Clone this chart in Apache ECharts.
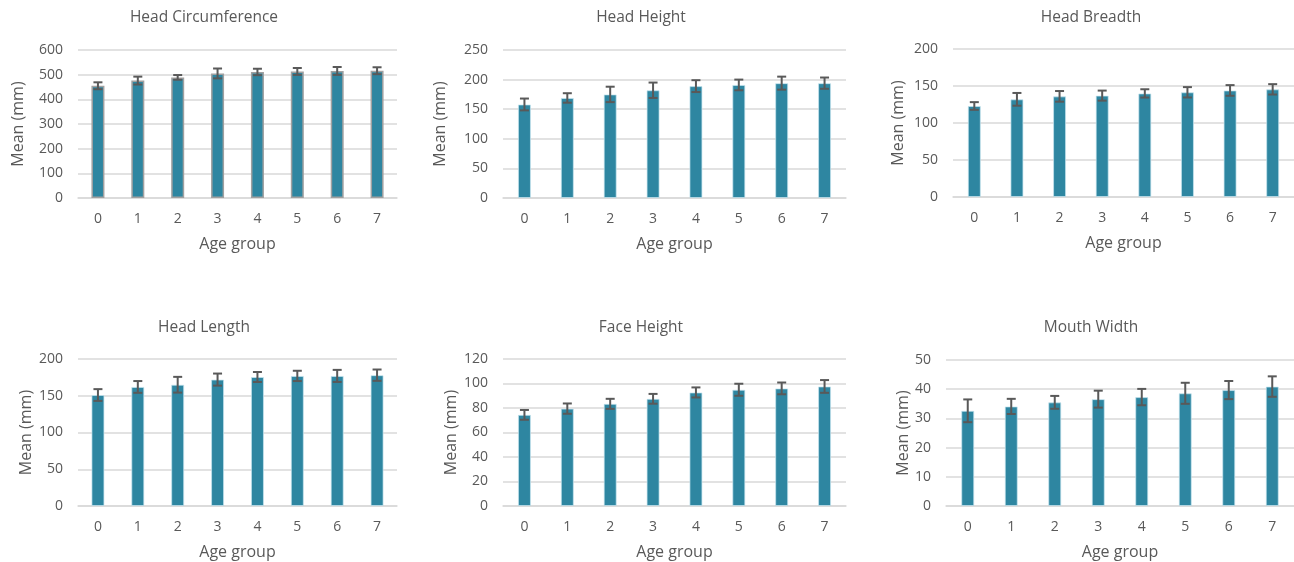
<!DOCTYPE html>
<html>
<head>
<meta charset="utf-8">
<script src="https://cdn.jsdelivr.net/npm/echarts@6/dist/echarts.min.js"></script>
<style>
  html, body { margin: 0; padding: 0; background: #ffffff; }
  #chart { width: 1294px; height: 562px; }
</style>
</head>
<body>
<div id="chart"></div>
<script>
// ---- Data ----
const categories = ['0', '1', '2', '3', '4', '5', '6', '7'];

const titles = ['Head Circumference', 'Head Height', 'Head Breadth', 'Head Length', 'Face Height', 'Mouth Width'];

const headCircumferenceMean = [455, 476, 489, 505, 511, 513, 515, 516];
const headCircumferenceErr  = [14, 16, 9.5, 20, 13, 14, 16, 14];

const headHeightMean = [158, 169, 175, 182, 189, 191, 194, 194];
const headHeightErr  = [10, 8, 13, 13, 10, 9, 11, 9.5];

const headBreadthMean = [123, 132, 136, 137, 140, 141.5, 144, 145.5];
const headBreadthErr  = [5.2, 8.6, 7.2, 6.8, 5.6, 7, 7.2, 7];

const headLengthMean = [151, 162, 165, 172, 175.5, 177, 177, 178];
const headLengthErr  = [8, 8, 10.7, 8.2, 6.8, 7, 8.2, 7.7];

const faceHeightMean = [74.4, 79.5, 83.4, 87.5, 92.7, 94.9, 96, 97.6];
const faceHeightErr  = [4, 4.2, 4.1, 4, 4.1, 4.9, 4.8, 5.2];

const mouthWidthMean = [32.6, 34.1, 35.5, 36.6, 37.3, 38.6, 39.7, 40.9];
const mouthWidthErr  = [3.9, 2.6, 2.2, 2.9, 2.8, 3.6, 3.1, 3.5];

const yMax      = [600, 250, 200, 200, 120, 50];
const yInterval = [100, 50, 50, 50, 20, 10];

const means = [headCircumferenceMean, headHeightMean, headBreadthMean, headLengthMean, faceHeightMean, mouthWidthMean];
const errs  = [headCircumferenceErr, headHeightErr, headBreadthErr, headLengthErr, faceHeightErr, mouthWidthErr];

// ---- Layout (pixels) ----
const grids = [
  { left: 78,  top: 50,  width: 319, height: 148 },
  { left: 503, top: 50,  width: 343, height: 148 },
  { left: 953, top: 49,  width: 341, height: 148 },
  { left: 78,  top: 359, width: 319, height: 147 },
  { left: 503, top: 359, width: 343, height: 147 },
  { left: 946, top: 360, width: 348, height: 146 }
];
const yNameGap = [52, 55, 47, 44, 44, 35];
const titlePos = [[204, 18], [641, 18], [1091, 18], [204, 328], [641, 328], [1091, 328]];

const FONT = '"Open Sans", "Noto Sans", sans-serif';
const TXT = '#595959';
const BAR = '#2E86A1';

const option = {
  backgroundColor: '#ffffff',
  animation: false,
  textStyle: { fontFamily: FONT },
  grid: grids.map(g => Object.assign({ containLabel: false }, g)),
  graphic: titles.map((t, i) => ({
    type: 'text',
    x: titlePos[i][0],
    y: titlePos[i][1],
    style: {
      text: t,
      fill: TXT,
      font: '15.5px ' + FONT,
      textAlign: 'center',
      textVerticalAlign: 'middle'
    }
  })),
  xAxis: grids.map((g, i) => ({
    type: 'category',
    gridIndex: i,
    data: categories,
    name: 'Age group',
    nameLocation: 'middle',
    nameGap: 38,
    nameTextStyle: { color: TXT, fontSize: 16, fontFamily: FONT },
    axisLine: { show: true, lineStyle: { color: '#d9d9d9', width: 1.5 } },
    axisTick: { show: false },
    axisLabel: { color: TXT, fontSize: 14, margin: 14, fontFamily: FONT }
  })),
  yAxis: grids.map((g, i) => ({
    type: 'value',
    gridIndex: i,
    min: 0,
    max: yMax[i],
    interval: yInterval[i],
    name: 'Mean (mm)',
    nameLocation: 'middle',
    nameGap: yNameGap[i],
    nameTextStyle: { color: TXT, fontSize: 16, fontFamily: FONT },
    axisLine: { show: false },
    axisTick: { show: false },
    axisLabel: { color: TXT, fontSize: 14, margin: 15, fontFamily: FONT },
    splitLine: { show: true, lineStyle: { color: '#d9d9d9', width: 1.5 } }
  })),
  series: []
};

means.forEach((m, i) => {
  option.series.push({
    type: 'bar',
    xAxisIndex: i,
    yAxisIndex: i,
    data: m,
    barWidth: 13,
    itemStyle: {
      color: BAR,
      borderColor: i === 0 ? '#a0a0a0' : 'rgba(200,230,240,0.7)',
      borderWidth: i === 0 ? 1.5 : 1
    },
    z: 2
  });
  option.series.push({
    type: 'custom',
    xAxisIndex: i,
    yAxisIndex: i,
    data: m.map((v, k) => [k, v - errs[i][k], v + errs[i][k]]),
    encode: { x: 0, y: [1, 2] },
    renderItem: function (params, api) {
      const x = api.value(0);
      const lo = api.coord([x, api.value(1)]);
      const hi = api.coord([x, api.value(2)]);
      const cap = 4.5;
      const st = { stroke: '#595959', lineWidth: 2 };
      return {
        type: 'group',
        children: [
          { type: 'line', shape: { x1: hi[0], y1: hi[1], x2: lo[0], y2: lo[1] }, style: st },
          { type: 'line', shape: { x1: hi[0] - cap, y1: hi[1], x2: hi[0] + cap, y2: hi[1] }, style: st },
          { type: 'line', shape: { x1: lo[0] - cap, y1: lo[1], x2: lo[0] + cap, y2: lo[1] }, style: st }
        ]
      };
    },
    z: 3
  });
});

const chart = echarts.init(document.getElementById('chart'));
chart.setOption(option);
</script>
</body>
</html>
